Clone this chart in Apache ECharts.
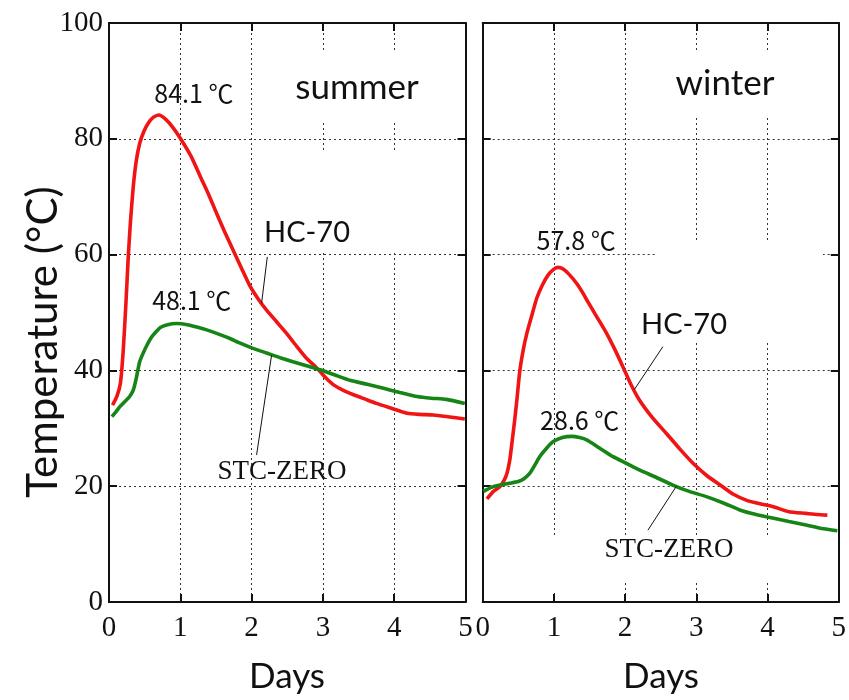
<!DOCTYPE html>
<html>
<head>
<meta charset="utf-8">
<title>Temperature</title>
<script src="https://cdn.jsdelivr.net/npm/echarts@6/dist/echarts.min.js"></script>
<style>
  html, body { margin: 0; padding: 0; background: #fff; }
  #chart { width: 849px; height: 700px; }
</style>
</head>
<body>
<div id="chart"></div>
<script>
// Days elapsed and temperature (°C) for each panel / product
const summerHcDays = [0.05, 0.11, 0.16, 0.20, 0.24, 0.27, 0.30, 0.34, 0.38, 0.43, 0.49, 0.55, 0.62, 0.70, 0.80, 0.90, 1.00, 1.15, 1.28, 1.40, 1.51, 1.62, 1.74, 1.86, 1.98, 2.10, 2.21, 2.35, 2.49, 2.63, 2.77, 2.90, 2.96, 3.05, 3.15, 3.28, 3.43, 3.60, 3.75, 3.95, 4.18, 4.35, 4.55, 4.75, 4.99];
const summerHcTemp = [34.0, 35.5, 37.8, 43.5, 52.2, 59.6, 65.5, 71.7, 76.0, 79.2, 81.3, 82.7, 83.7, 84.1, 83.3, 81.9, 80.1, 77.0, 73.5, 70.3, 67.1, 64.0, 60.8, 57.6, 54.5, 52.2, 50.4, 48.4, 46.4, 44.2, 42.1, 40.6, 39.8, 38.6, 37.5, 36.6, 35.8, 35.0, 34.3, 33.5, 32.6, 32.4, 32.3, 32.0, 31.6];

const summerStcDays = [0.04, 0.10, 0.15, 0.22, 0.29, 0.34, 0.38, 0.43, 0.48, 0.53, 0.60, 0.67, 0.72, 0.82, 0.95, 1.10, 1.23, 1.37, 1.51, 1.68, 1.84, 2.02, 2.21, 2.40, 2.58, 2.77, 2.96, 3.17, 3.38, 3.62, 3.85, 4.08, 4.32, 4.52, 4.73, 4.99];
const summerStcTemp = [32.0, 32.9, 33.7, 34.6, 35.5, 36.6, 38.5, 41.5, 43.0, 44.3, 45.8, 46.8, 47.4, 47.9, 48.1, 47.9, 47.5, 47.0, 46.4, 45.6, 44.7, 43.8, 43.0, 42.2, 41.5, 40.8, 40.1, 39.2, 38.3, 37.6, 36.9, 36.2, 35.5, 35.2, 35.0, 34.3];

const winterHcDays = [0.06, 0.15, 0.24, 0.30, 0.34, 0.38, 0.41, 0.45, 0.48, 0.52, 0.57, 0.62, 0.69, 0.76, 0.84, 0.92, 1.00, 1.06, 1.13, 1.22, 1.32, 1.41, 1.46, 1.60, 1.74, 1.86, 1.97, 2.08, 2.20, 2.38, 2.58, 2.77, 2.95, 3.15, 3.37, 3.52, 3.70, 3.88, 4.07, 4.30, 4.54, 4.70, 4.84];
const winterHcTemp = [17.8, 19.1, 19.9, 21.0, 22.2, 24.5, 27.4, 31.5, 34.9, 39.8, 43.6, 46.4, 49.5, 52.5, 54.8, 56.5, 57.5, 57.8, 57.5, 56.5, 55.0, 53.3, 52.2, 49.3, 46.4, 43.5, 40.6, 37.6, 34.9, 31.9, 29.1, 26.4, 24.0, 21.8, 19.9, 18.6, 17.6, 17.0, 16.5, 15.6, 15.3, 15.1, 15.0];

const winterStcDays = [0.01, 0.12, 0.24, 0.37, 0.50, 0.58, 0.66, 0.73, 0.80, 0.90, 0.99, 1.12, 1.25, 1.36, 1.46, 1.64, 1.83, 2.01, 2.20, 2.44, 2.67, 2.90, 3.14, 3.38, 3.61, 3.84, 4.07, 4.30, 4.54, 4.76, 4.98];
const winterStcTemp = [19.1, 19.8, 20.2, 20.5, 20.8, 21.3, 22.2, 23.6, 25.1, 26.6, 27.7, 28.4, 28.6, 28.4, 28.0, 26.6, 25.1, 24.0, 22.8, 21.5, 20.2, 19.1, 18.2, 17.1, 15.9, 15.1, 14.5, 13.9, 13.3, 12.7, 12.3];

// Leader lines from the product names to their curves: [day, °C] pairs
const summerHcLeader = [[2.22, 59.6], [2.14, 51.6]];
const summerStcLeader = [[2.07, 25.4], [2.28, 42.6]];
const winterHcLeader = [[2.53, 44.1], [2.13, 36.7]];
const winterStcLeader = [[2.32, 12.4], [2.72, 20.0]];

const xTicks = [0, 1, 2, 3, 4, 5];
const yTicks = [0, 20, 40, 60, 80, 100];

const RED = '#f01414';
const GREEN = '#168516';
const INK = '#111';
const SERIF = '"Liberation Serif", "Times New Roman", serif';
const SANS = 'Lato, "Noto Sans", sans-serif';
const PEAK_FONT = '"Noto Sans CJK JP", "Noto Sans", sans-serif';

const zip = (xs, ys) => xs.map((x, i) => [x, ys[i]]);

const panels = [
  { left: 109, right: 383.5 },
  { left: 482.7, right: 9.5 }
];

const grids = panels.map(p => ({
  left: p.left, right: p.right, top: 23, bottom: 98, show: false
}));

const xAxes = [];
const yAxes = [];
panels.forEach((p, gi) => {
  // bottom axis with labels and dotted vertical grid
  xAxes.push({
    type: 'value', gridIndex: gi, min: xTicks[0], max: xTicks[xTicks.length - 1], interval: 1,
    position: 'bottom',
    axisLine: { show: true, onZero: false, lineStyle: { color: INK, width: 2 } },
    axisTick: { show: true, inside: true, length: 8, lineStyle: { color: INK, width: 2 } },
    axisLabel: { show: true, margin: 12, fontFamily: SERIF, fontSize: 29, color: INK },
    splitLine: { show: true, lineStyle: { color: '#333', width: 1, type: [2, 3] } }
  });
  // top frame edge with inward ticks
  xAxes.push({
    type: 'value', gridIndex: gi, min: xTicks[0], max: xTicks[xTicks.length - 1], interval: 1,
    position: 'top',
    axisLine: { show: true, onZero: false, lineStyle: { color: INK, width: 2 } },
    axisTick: { show: true, inside: true, length: 8, lineStyle: { color: INK, width: 2 } },
    axisLabel: { show: false },
    splitLine: { show: false }
  });
  yAxes.push({
    type: 'value', gridIndex: gi, min: yTicks[0], max: yTicks[yTicks.length - 1], interval: 20,
    position: 'left',
    axisLine: { show: true, onZero: false, lineStyle: { color: INK, width: 2 } },
    axisTick: { show: true, inside: true, length: 8, lineStyle: { color: INK, width: 2 } },
    axisLabel: { show: gi === 0, margin: 6, fontFamily: SERIF, fontSize: 29, color: INK },
    splitLine: { show: true, lineStyle: { color: '#333', width: 1, type: [2, 3] } }
  });
  yAxes.push({
    type: 'value', gridIndex: gi, min: yTicks[0], max: yTicks[yTicks.length - 1], interval: 20,
    position: 'right',
    axisLine: { show: true, onZero: false, lineStyle: { color: INK, width: 2 } },
    axisTick: { show: true, inside: true, length: 8, lineStyle: { color: INK, width: 2 } },
    axisLabel: { show: false },
    splitLine: { show: false }
  });
});

function leader(coords) {
  return {
    silent: true,
    symbol: ['none', 'none'],
    label: { show: false },
    lineStyle: { color: INK, width: 1, type: 'solid' },
    data: [[{ coord: coords[0] }, { coord: coords[1] }]]
  };
}

function peak(offset) {
  return {
    symbol: 'circle', symbolSize: 0, silent: true,
    data: [{ type: 'max' }],
    label: {
      show: true, position: 'inside', offset: offset,
      formatter: p => p.value.toFixed(1) + ' \u2103',
      fontFamily: PEAK_FONT, fontSize: 25, color: INK
    }
  };
}

function curve(name, gi, data, color, peakOffset, leaderCoords) {
  return {
    name: name, type: 'line', xAxisIndex: gi * 2, yAxisIndex: gi * 2,
    data: data, showSymbol: false, smooth: 0.2, z: 3,
    lineStyle: { color: color, width: 3.6 },
    itemStyle: { color: color },
    markPoint: peak(peakOffset),
    markLine: leader(leaderCoords)
  };
}

const series = [
  curve('HC-70', 0, zip(summerHcDays, summerHcTemp), RED, [35, -22], summerHcLeader),
  curve('STC-ZERO', 0, zip(summerStcDays, summerStcTemp), GREEN, [15, -23], summerStcLeader),
  curve('HC-70', 1, zip(winterHcDays, winterHcTemp), RED, [18, -27], winterHcLeader),
  curve('STC-ZERO', 1, zip(winterStcDays, winterStcTemp), GREEN, [8, -16], winterStcLeader)
];

// white patches behind the panel captions
const patches = [
  [290, 52, 140, 68], [300, 150, 130, 102],
  [660, 50, 170, 65], [657, 241, 166, 102],
  [545, 535, 235, 47], [548, 535, 12, 58]
].map(r => ({
  type: 'rect', z: 1, silent: true,
  shape: { x: r[0], y: r[1], width: r[2], height: r[3] },
  style: { fill: '#fff' }
}));

function text(str, x, y, font, size, rotation) {
  return {
    type: 'text', z: 10, x: x, y: y, rotation: rotation || 0, silent: true,
    style: {
      text: str, fill: INK, font: size + 'px ' + font,
      textAlign: 'center', textVerticalAlign: 'middle'
    }
  };
}

const texts = [
  text('summer', 357, 88, SANS, 35),
  text('winter', 725, 84, SANS, 35),
  text('HC-70', 307, 233, SANS, 29),
  text('HC-70', 684, 325, SANS, 29),
  text('STC-ZERO', 282, 472, SERIF, 27),
  text('STC-ZERO', 669, 550, SERIF, 27),
  text('Days', 287, 677, SANS, 35),
  text('Days', 661, 677, SANS, 35),
  text('Temperature (\u00b0C)', 43, 342, SANS, 42, Math.PI / 2)
];

const chart = echarts.init(document.getElementById('chart'), null, { renderer: 'canvas' });
chart.setOption({
  animation: false,
  backgroundColor: '#fff',
  grid: grids,
  xAxis: xAxes,
  yAxis: yAxes,
  series: series,
  graphic: patches.concat(texts)
});
</script>
</body>
</html>
